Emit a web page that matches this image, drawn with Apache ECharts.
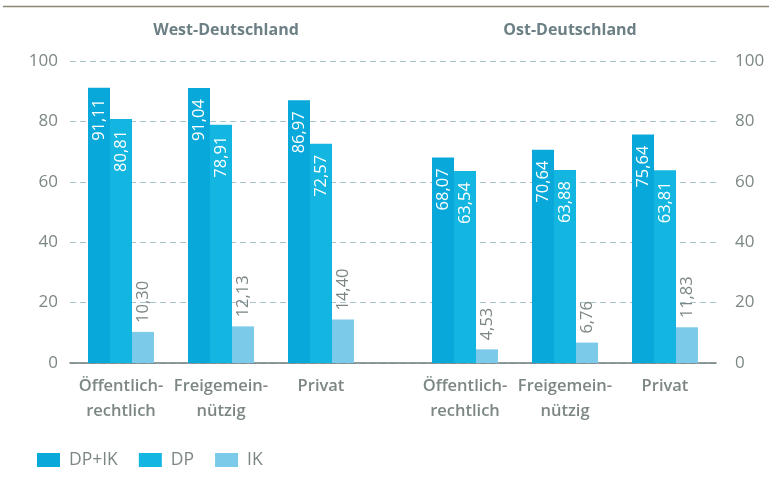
<!DOCTYPE html>
<html><head><meta charset="utf-8">
<script src="https://cdn.jsdelivr.net/npm/echarts@6/dist/echarts.min.js"></script>
<style>html,body{margin:0;padding:0;background:#fff}#c{width:769px;height:477px}</style>
</head><body><div id="c"></div>
<script>
var categories = ["Öffentlich-\nrechtlich", "Freigemein-\nnützig", "Privat"];
var regions = ["West-Deutschland", "Ost-Deutschland"];
var seriesNames = ["DP+IK", "DP", "IK"];
var westDPIK = [91.11, 91.04, 86.97];
var westDP = [80.81, 78.91, 72.57];
var westIK = [10.30, 12.13, 14.40];
var eastDPIK = [68.07, 70.64, 75.64];
var eastDP = [63.54, 63.88, 63.81];
var eastIK = [4.53, 6.76, 11.83];
var yTicks = [0, 20, 40, 60, 80, 100];

var colors = ["#08a9da", "#12b6e0", "#7ccaea"];
var FONT = "'Open Sans'";
var gray = "#7c8784";
function fmt(v){ return v.toFixed(2).replace('.', ','); }

function mkSeries(name, data, gridIdx, ci, inside) {
  return {
    name: name, type: 'bar', xAxisIndex: gridIdx + 1, yAxisIndex: gridIdx + 2,
    data: data, barWidth: 22, barGap: '0%',
    itemStyle: { color: colors[ci] },
    label: inside ? {
      show: true, position: 'insideTop', rotate: 90, align: 'right', verticalAlign: 'middle',
      distance: 11, color: '#fff', fontFamily: FONT, fontSize: 16.5, fontWeight: 'normal',
      formatter: function(p){ return fmt(p.value); }
    } : {
      show: true, position: 'top', rotate: 90, align: 'left', verticalAlign: 'middle',
      distance: 9, color: gray, fontFamily: FONT, fontSize: 16.5, fontWeight: 'normal',
      formatter: function(p){ return fmt(p.value); }
    }
  };
}

var catLabel = { fontFamily: FONT, fontSize: 16.5, fontWeight: 600, color: gray,
  lineHeight: 25, margin: 11, interval: 0 };
var tickLabel = { fontFamily: FONT, fontSize: 17, fontWeight: 'normal', color: gray };

var chart = echarts.init(document.getElementById('c'));
var gTop = 61, gBottom = 114;
chart.setOption({
  animation: false,
  backgroundColor: '#ffffff',
  textStyle: { fontFamily: FONT },
  grid: [
    { left: 70, right: 53, top: gTop, bottom: gBottom },
    { left: 71, width: 300, top: gTop, bottom: gBottom },
    { left: 415, width: 300, top: gTop, bottom: gBottom }
  ],
  title: [
    { text: regions[0], left: 221, top: 17, textAlign: 'center',
      textStyle: { fontFamily: FONT, fontSize: 16, fontWeight: 'bold', color: '#6b7f85' } },
    { text: regions[1], left: 565, top: 17, textAlign: 'center',
      textStyle: { fontFamily: FONT, fontSize: 16, fontWeight: 'bold', color: '#6b7f85' } }
  ],
  legend: {
    data: seriesNames, left: 37, top: 451, padding: 0, itemWidth: 23, itemHeight: 14, itemGap: 21,
    icon: 'rect', textStyle: { fontFamily: FONT, fontSize: 17.5, fontWeight: 'normal', color: gray, padding: [0, 0, 0, 4] }
  },
  xAxis: [
    { gridIndex: 0, type: 'value', min: 0, max: 1, show: true,
      axisLine: { show: true, onZero: false, lineStyle: { color: '#6f7b7b', width: 1.5 } },
      axisTick: { show: false }, axisLabel: { show: false }, splitLine: { show: false } },
    { gridIndex: 1, type: 'category', data: categories,
      axisLine: { show: false }, axisTick: { show: false }, axisLabel: catLabel },
    { gridIndex: 2, type: 'category', data: categories,
      axisLine: { show: false }, axisTick: { show: false }, axisLabel: catLabel }
  ],
  yAxis: [
    { gridIndex: 0, type: 'value', min: 0, max: 100, interval: 20, position: 'left',
      axisLine: { show: false }, axisTick: { show: false },
      axisLabel: Object.assign({ margin: 12,
        formatter: function(v){ return yTicks.indexOf(v) >= 0 ? String(v) : ''; } }, tickLabel),
      splitLine: { show: true, lineStyle: { color: '#a9c6ce', type: [6, 4], width: 1 } } },
    { gridIndex: 0, type: 'value', min: 0, max: 100, interval: 20, position: 'right',
      axisLine: { show: false }, axisTick: { show: false },
      axisLabel: Object.assign({ margin: 19,
        formatter: function(v){ return yTicks.indexOf(v) >= 0 ? String(v) : ''; } }, tickLabel),
      splitLine: { show: false } },
    { gridIndex: 1, type: 'value', min: 0, max: 100, show: false },
    { gridIndex: 2, type: 'value', min: 0, max: 100, show: false }
  ],
  series: [
    mkSeries(seriesNames[0], westDPIK, 0, 0, true),
    mkSeries(seriesNames[1], westDP, 0, 1, true),
    mkSeries(seriesNames[2], westIK, 0, 2, false),
    mkSeries(seriesNames[0], eastDPIK, 1, 0, true),
    mkSeries(seriesNames[1], eastDP, 1, 1, true),
    mkSeries(seriesNames[2], eastIK, 1, 2, false)
  ],
  graphic: [
    { type: 'line', shape: { x1: 3, y1: 6.5, x2: 769, y2: 6.5 },
      style: { stroke: '#8c8676', lineWidth: 1.5 } }
  ]
});
</script></body></html>
